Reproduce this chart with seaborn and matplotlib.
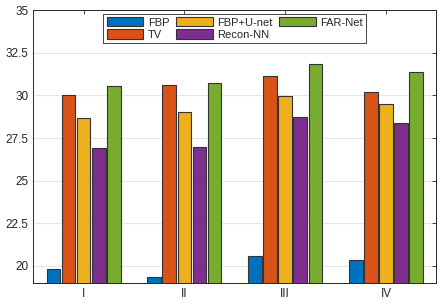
import pandas as pd
import seaborn as sns
from matplotlib import pyplot as plt

groups = ["I", "II", "III", "IV"]
methods = ["FBP", "TV", "FBP+U-net", "Recon-NN", "FAR-Net"]
fbp = [19.84, 19.35, 20.59, 20.37]
tv = [30.04, 30.61, 31.14, 30.22]
unet = [28.65, 29.04, 29.94, 29.51]
recon_nn = [26.94, 26.96, 28.75, 28.37]
far_net = [30.57, 30.71, 31.84, 31.37]
colors = ["#0072BD", "#D95319", "#EDB120", "#7E2F8E", "#77AC30"]

series = [fbp, tv, unet, recon_nn, far_net]
df = pd.DataFrame([
    {"group": g, "method": m, "psnr": v}
    for m, vals in zip(methods, series)
    for g, v in zip(groups, vals)
])

sns.set_style("white")
plt.rcParams["font.family"] = ["Liberation Sans", "DejaVu Sans"]

fig, ax = plt.subplots(figsize=(4.43, 3.05), dpi=100)
fig.subplots_adjust(left=0.075, right=0.985, top=0.967, bottom=0.072)

sns.barplot(data=df, x="group", y="psnr", hue="method", order=groups,
            hue_order=methods, palette=colors, width=0.75, gap=0.1,
            edgecolor="#333333", linewidth=0.8, saturation=1, ax=ax)

ax.set_xlim(-0.5, 3.5)
ax.set_ylim(19, 35)
ax.set_yticks([20, 22.5, 25, 27.5, 30, 32.5, 35])
ax.set_yticklabels(["20", "22.5", "25", "27.5", "30", "32.5", "35"])
ax.set_xlabel("")
ax.set_ylabel("")
ax.set_axisbelow(True)
ax.yaxis.grid(True, color="#e6e6e6", linewidth=0.8)
ax.tick_params(direction="in", length=3, width=0.6, labelsize=8.5,
               colors="#262626", top=True, right=True)
for s in ax.spines.values():
    s.set_color("#262626")
    s.set_linewidth(0.7)

leg = ax.legend(ncol=3, loc="upper center", bbox_to_anchor=(0.5, 0.986),
                borderaxespad=0, fontsize=8, frameon=True, fancybox=False,
                edgecolor="#262626", handlelength=3.3, handleheight=0.9,
                columnspacing=0.6, handletextpad=0.4, labelspacing=0.15,
                borderpad=0.3, framealpha=1)
leg.get_frame().set_linewidth(0.6)

fig.savefig("out.png", dpi=100)
